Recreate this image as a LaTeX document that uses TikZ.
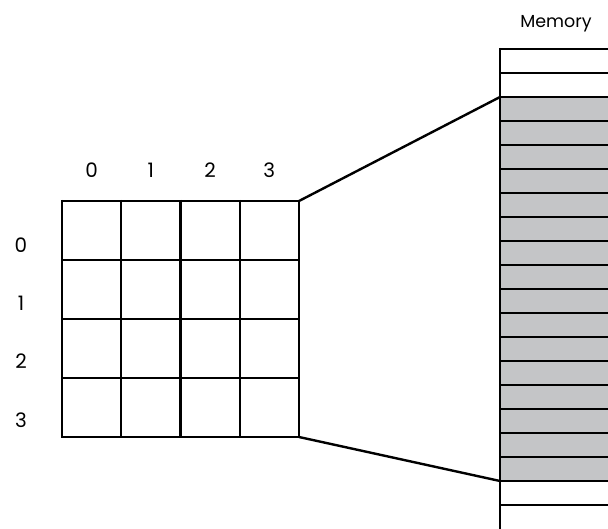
\documentclass[tikz,border=0pt]{standalone}
\usepackage{fontspec}
\setmainfont{Poppins}
\definecolor{memgray}{RGB}{196,197,199}

\begin{document}
\begin{tikzpicture}[x=1bp, y=-1bp, line width=2.4bp,
    idx/.style={font=\fontsize{20}{24}\selectfont, inner sep=0}]
      \useasboundingbox (0,0) rectangle (608,529);
      \coordinate (tl) at (62,201);
      \coordinate (tr) at (299,201);
      \coordinate (br) at (299,437);
      \coordinate (mtop) at (500,97);
      \coordinate (mbot) at (500,481);
      % shaded part of memory
      \fill[memgray] (mtop) rectangle (608,481);
      \foreach \i in {0,...,19} {
        \draw (500,49+24*\i) -- (608,49+24*\i);
      }
      \draw (500,48) -- (500,529);
      % the 4x4 array
      \foreach \i in {0,...,4} {
        \draw (62+59.25*\i,200) -- (62+59.25*\i,438);
        \draw (61,201+59*\i) -- (300,201+59*\i);
      }
      \foreach \i in {0,...,3} {
        \node[idx] (col\i) at (91.6+59.25*\i,170) {\i};
        \node[idx] (row\i) at (21,245+58.3*\i) {\i};
      }
      \draw[line cap=round] (tr) -- (mtop);
      \draw[line cap=round] (br) -- (mbot);
      \node[font=\fontsize{17.5}{20}\selectfont] (memlabel) at (556,24) {Memory};
\end{tikzpicture}
\end{document}
